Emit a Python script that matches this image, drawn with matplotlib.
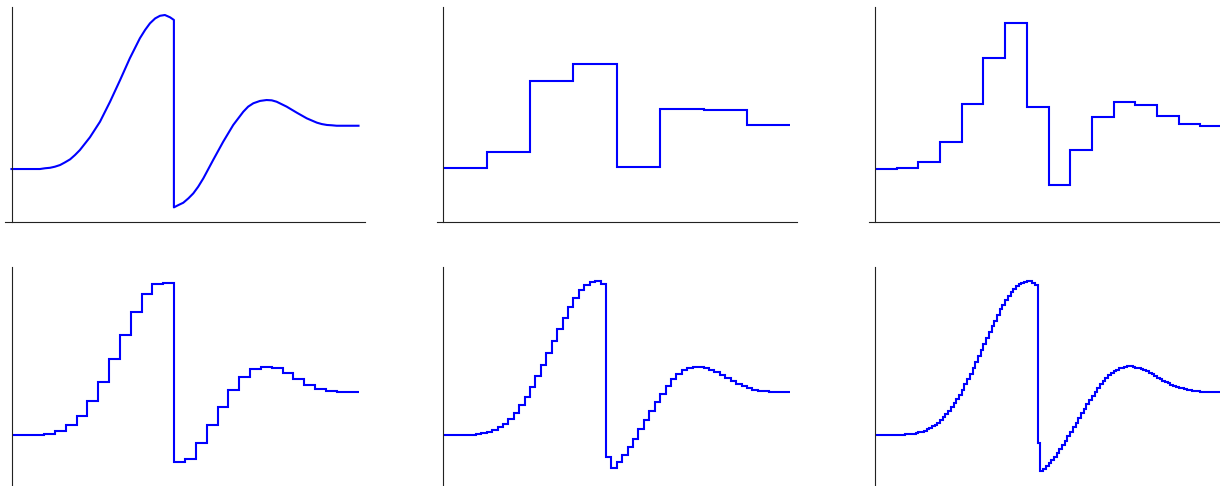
import numpy as np
import matplotlib
matplotlib.use("Agg")
import matplotlib.pyplot as plt

# smooth signal (x in [0, 1]); the jump sits at x = 0.468
curve_x = [0.000, 0.082, 0.097, 0.111, 0.125, 0.140, 0.154, 0.169, 0.183, 0.197,
           0.226, 0.255, 0.284, 0.313, 0.341, 0.370, 0.385, 0.399, 0.414, 0.428,
           0.442, 0.457, 0.468,
           0.468, 0.481, 0.495, 0.510, 0.524, 0.538, 0.553, 0.581, 0.610, 0.639,
           0.668, 0.682, 0.697, 0.716, 0.735, 0.750, 0.764, 0.793, 0.822, 0.851,
           0.880, 0.894, 0.909, 0.923, 0.937, 1.000]
curve_y = [0.000, 0.000, 0.005, 0.008, 0.015, 0.026, 0.043, 0.063, 0.091, 0.123,
           0.206, 0.307, 0.437, 0.578, 0.719, 0.849, 0.903, 0.946, 0.978, 0.995,
           1.000, 0.985, 0.968,
           -0.249, -0.234, -0.219, -0.190, -0.158, -0.115, -0.060, 0.058, 0.177, 0.286,
           0.372, 0.405, 0.427, 0.442, 0.448, 0.446, 0.437, 0.405, 0.366, 0.329,
           0.301, 0.292, 0.286, 0.284, 0.281, 0.281]

# piecewise constant approximations
steps_8 = [0.006, 0.110, 0.571, 0.682, 0.013, 0.390, 0.383, 0.286]

steps_16 = [0.000, 0.005, 0.044, 0.173, 0.420, 0.723, 0.950, 0.405,
            -0.104, 0.123, 0.336, 0.437, 0.416, 0.344, 0.292, 0.281]

steps_32 = [0.000, 0.000, 0.002, 0.008, 0.026, 0.065, 0.125, 0.221,
            0.344, 0.491, 0.649, 0.797, 0.916, 0.981, 0.989, -0.177,
            -0.158, -0.054, 0.065, 0.184, 0.292, 0.375, 0.427, 0.444,
            0.433, 0.401, 0.362, 0.323, 0.301, 0.288, 0.281, 0.279]

steps_64 = [0.000, 0.000, 0.000, 0.001, 0.001, 0.002, 0.004, 0.011,
            0.019, 0.032, 0.050, 0.071, 0.106, 0.145, 0.193, 0.247,
            0.312, 0.381, 0.452, 0.532, 0.610, 0.686, 0.760, 0.831,
            0.892, 0.939, 0.972, 0.991, 0.998, 0.983, -0.143, -0.214,
            -0.175, -0.132, -0.080, -0.024, 0.037, 0.095, 0.156, 0.214,
            0.268, 0.318, 0.361, 0.394, 0.420, 0.435, 0.444, 0.444,
            0.435, 0.424, 0.409, 0.390, 0.368, 0.348, 0.331, 0.316,
            0.305, 0.294, 0.288, 0.284, 0.281, 0.279, 0.279, 0.279]

steps_128 = [0.000, 0.000, 0.000, 0.000, 0.000, 0.000, 0.001, 0.001,
             0.001, 0.001, 0.001, 0.003, 0.003, 0.005, 0.009, 0.013,
             0.016, 0.022, 0.028, 0.036, 0.045, 0.055, 0.064, 0.078,
             0.097, 0.115, 0.134, 0.156, 0.180, 0.206, 0.232, 0.262,
             0.295, 0.329, 0.363, 0.399, 0.433, 0.471, 0.512, 0.552,
             0.591, 0.629, 0.667, 0.705, 0.742, 0.778, 0.815, 0.847,
             0.879, 0.905, 0.929, 0.949, 0.966, 0.978, 0.988, 0.994,
             0.999, 0.997, 0.990, 0.976, -0.052, -0.234, -0.224, -0.204,
             -0.185, -0.165, -0.144, -0.120, -0.093, -0.067, -0.039, -0.009,
             0.022, 0.052, 0.080, 0.110, 0.141, 0.171, 0.200, 0.228,
             0.255, 0.281, 0.306, 0.330, 0.351, 0.371, 0.387, 0.401,
             0.415, 0.425, 0.432, 0.438, 0.443, 0.445, 0.445, 0.443,
             0.438, 0.432, 0.427, 0.421, 0.413, 0.405, 0.395, 0.385,
             0.373, 0.363, 0.353, 0.343, 0.335, 0.327, 0.319, 0.313,
             0.308, 0.302, 0.296, 0.292, 0.289, 0.287, 0.285, 0.283,
             0.282, 0.280, 0.280, 0.279, 0.279, 0.279, 0.279, 0.279]

W, H = 1220, 486
fig = plt.figure(figsize=(W / 100, H / 100), dpi=100)

col_x0 = [11.5, 443.3, 875.0]   # pixel of x = 0 in each column
px_per_unit = 347.0
xlim = (-0.018, 1.020)
rows = [
    # (top px, bottom px, ylim)
    (7.0, 222.0, (-0.344, 1.052)),
    (266.5, 489.0, (-0.351, 1.094)),
]


def make_axes(col, row):
    top, bottom, ylim = rows[row]
    left = col_x0[col] + xlim[0] * px_per_unit
    width = (xlim[1] - xlim[0]) * px_per_unit
    ax = fig.add_axes([left / W, 1 - bottom / H, width / W, (bottom - top) / H])
    ax.set_xlim(*xlim)
    ax.set_ylim(*ylim)
    for s in ("top", "right"):
        ax.spines[s].set_visible(False)
    ax.spines["left"].set_position(("data", 0))
    for s in ("left", "bottom"):
        ax.spines[s].set_linewidth(0.8)
        ax.spines[s].set_color("#222222")
    ax.set_xticks([])
    ax.set_yticks([])
    ax.patch.set_visible(False)
    return ax


ax = make_axes(0, 0)
ax.plot(curve_x, curve_y, color="#0000ff", lw=1.5)

panels = [(1, 0, steps_8), (2, 0, steps_16),
          (0, 1, steps_32), (1, 1, steps_64), (2, 1, steps_128)]
for col, row, vals in panels:
    ax = make_axes(col, row)
    edges = np.linspace(0, 1, len(vals) + 1)
    ax.stairs(vals, edges, baseline=None, color="#0000ff", lw=1.5)

fig.savefig("out.png", dpi=100)
